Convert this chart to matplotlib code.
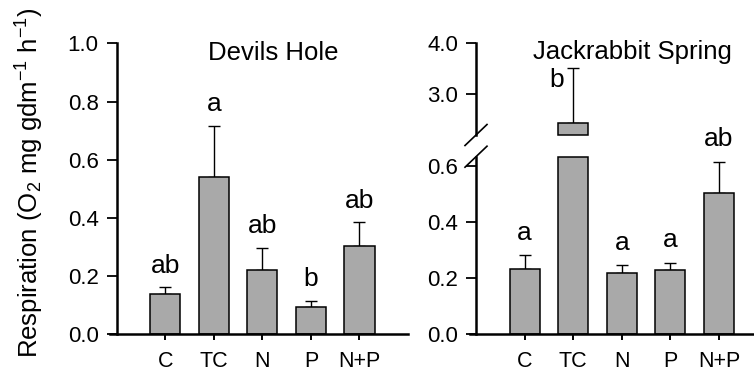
import matplotlib
matplotlib.use("Agg")
import matplotlib.pyplot as plt
import numpy as np

plt.rcParams['font.family'] = ['Liberation Sans', 'DejaVu Sans']
plt.rcParams['mathtext.fontset'] = 'custom'
plt.rcParams['mathtext.rm'] = 'Liberation Sans'
plt.rcParams['mathtext.it'] = 'Liberation Sans:italic'
plt.rcParams['mathtext.bf'] = 'Liberation Sans:bold'

# ---------------- data ----------------
categories = ["C", "TC", "N", "P", "N+P"]

dh_means = [0.137, 0.541, 0.221, 0.095, 0.305]
dh_err = [0.025, 0.176, 0.077, 0.020, 0.080]
dh_letters = ["ab", "a", "ab", "b", "ab"]

js_means = [0.231, 2.437, 0.219, 0.229, 0.504]
js_err = [0.050, 1.083, 0.028, 0.026, 0.110]
js_letters = ["a", "b", "a", "a", "ab"]

left_yticks = [0.0, 0.2, 0.4, 0.6, 0.8, 1.0]
low_yticks = [0.0, 0.2, 0.4, 0.6]
up_yticks = [3.0, 4.0]

# ---------------- style ----------------
W, H = 754, 372
fig = plt.figure(figsize=(W / 100, H / 100), dpi=100)
bar_color = "#a9a9a9"
bar_w = 0.62
tick_fs = 16
cat_fs = 15.5
letter_fs = 19
title_fs = 18.5
spine_lw = 1.8
bar_lw = 1.1
cap = 4.5
unit_px = 48.55           # pixels per category step
ext_px = 6.5              # x-axis overhang left of the y-axis
x_left = -1 - ext_px / unit_px

x = np.arange(len(categories))


def px_rect(x0, y_top, x1, y_bot):
    return [x0 / W, 1 - y_bot / H, (x1 - x0) / W, (y_bot - y_top) / H]


def style_axes(ax, show_x=True):
    for s in ["top", "right"]:
        ax.spines[s].set_visible(False)
    ax.spines["left"].set_linewidth(spine_lw)
    ax.spines["left"].set_position(("data", -1))
    ax.spines["bottom"].set_linewidth(spine_lw)
    ax.tick_params(axis="y", direction="out", length=7, width=1.3,
                   labelsize=tick_fs, pad=6)
    if show_x:
        ax.tick_params(axis="x", direction="out", length=4.5, width=1.4,
                       labelsize=cat_fs, pad=7.5)
        ax.set_xticks(x)
        ax.set_xticklabels(categories)
    else:
        ax.spines["bottom"].set_visible(False)
        ax.set_xticks([])
    ax.set_xlim(x_left, 5)
    ax.patch.set_visible(False)


def draw_bars(ax, xs, heights, bottom=0.0, clip=True):
    ax.bar(xs, heights, bottom=bottom, width=bar_w,
           color=bar_color, edgecolor="black", linewidth=bar_lw, zorder=2,
           clip_on=clip)


def draw_err(ax, xs, means, errs):
    yerr = [np.zeros(len(means)), errs]
    ax.errorbar(xs, means, yerr=yerr, fmt="none", ecolor="black",
                elinewidth=1.0, capsize=cap, capthick=1.0, zorder=1)


# ---------------- left panel: Devils Hole ----------------
axL = fig.add_axes(px_rect(116.7 - ext_px, 43.3, 408.0, 334.3))
style_axes(axL)
axL.set_ylim(0, 1.0)
axL.set_yticks(left_yticks)
axL.set_yticklabels([f"{v:.1f}" for v in left_yticks])
draw_err(axL, x, dh_means, dh_err)
draw_bars(axL, x, dh_means)
for xi, m, e, lab in zip(x, dh_means, dh_err, dh_letters):
    axL.annotate(lab, (xi, m + e), xytext=(0, 10.5), textcoords="offset points",
                 ha="center", va="baseline", fontsize=letter_fs)
axL.text(2.22, 0.968, "Devils Hole", ha="center", va="center", fontsize=title_fs)

# ---------------- right panel: Jackrabbit Spring (broken axis) ----------------
axLo = fig.add_axes(px_rect(476.0 - ext_px, 156.7, 767.5, 334.3))
axUp = fig.add_axes(px_rect(476.0 - ext_px, 43.3, 767.5, 135.0))
style_axes(axLo)
style_axes(axUp, show_x=False)

low_top = 0.632
axLo.set_ylim(0, low_top)
axLo.set_yticks(low_yticks)
axLo.set_yticklabels([f"{v:.1f}" for v in low_yticks])
up_bot = 2.2
axUp.set_ylim(up_bot, 4.0)
axUp.set_yticks(up_yticks)
axUp.set_yticklabels([f"{v:.1f}" for v in up_yticks])

js_m = np.array(js_means)
js_e = np.array(js_err)
low_mask = js_m <= low_top
hi = ~low_mask
# lower axes: bars capped at the break
draw_err(axLo, x[low_mask], js_m[low_mask], js_e[low_mask])
draw_bars(axLo, x, np.minimum(js_m, low_top), clip=False)
# upper axes: only the bars that exceed the break
draw_err(axUp, x[hi], js_m[hi], js_e[hi])
draw_bars(axUp, x[hi], js_m[hi] - up_bot, bottom=up_bot, clip=False)

for xi, m, e, lab in zip(x, js_m, js_e, js_letters):
    if m <= low_top:
        t = axLo.annotate(lab, (xi, m + e), xytext=(0, 11), textcoords="offset points",
                          ha="center", va="baseline", fontsize=letter_fs,
                          annotation_clip=False)
        t.set_clip_on(False)
    else:
        axUp.text(xi - 0.34, 3.137, lab, ha="center", va="baseline",
                  fontsize=letter_fs)

axUp.text(2.22, 3.83, "Jackrabbit Spring", ha="center", va="center",
          fontsize=title_fs)

# break marks (pixel geometry)
for yc in (135.0, 156.7):
    fig.add_artist(plt.Line2D([(476 - 11) / W, (476 + 11) / W],
                              [1 - (yc + 10.5) / H, 1 - (yc - 10.5) / H],
                              color="black", linewidth=1.2,
                              transform=fig.transFigure))

# y label
fig.text(30 / W, 1 - 183 / H, r"Respiration (O$_2$ mg gdm$^{-1}$ h$^{-1}$)",
         rotation=90, ha="center", va="center", fontsize=18.5)

fig.savefig("out.png", dpi=100)
